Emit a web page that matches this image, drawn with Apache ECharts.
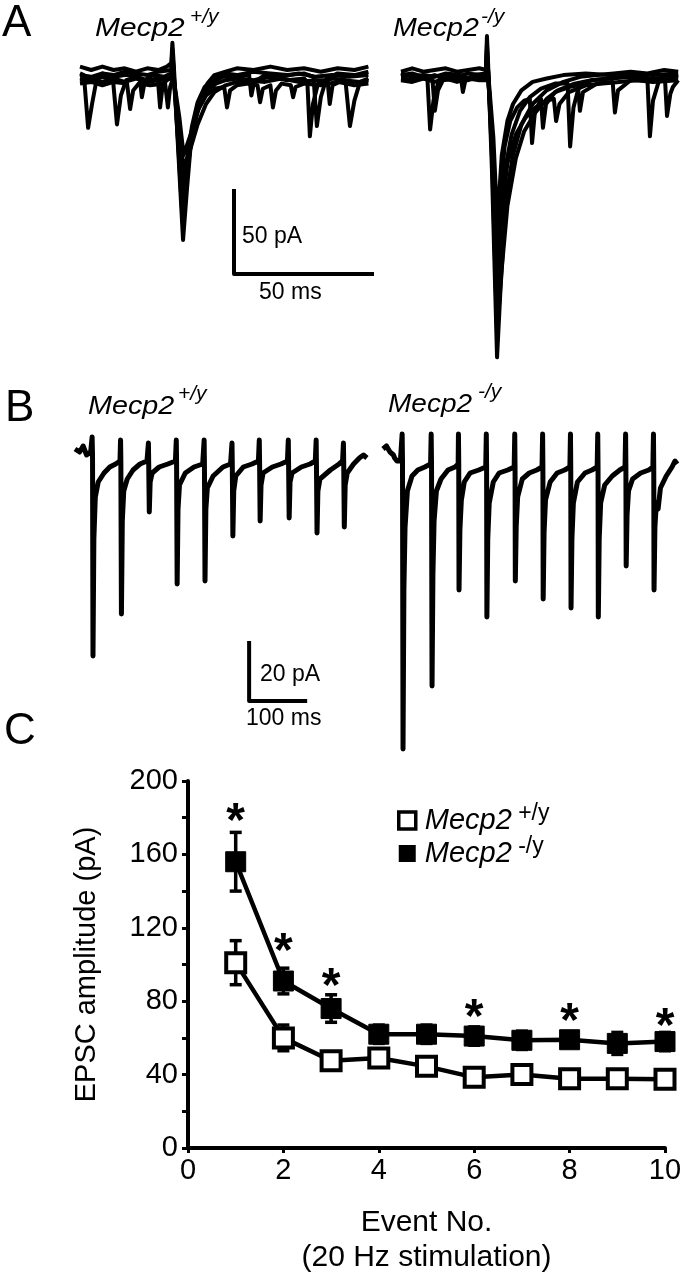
<!DOCTYPE html>
<html>
<head>
<meta charset="utf-8">
<script src="https://cdn.jsdelivr.net/npm/echarts/dist/echarts.min.js"></script>
<style>
  html, body { margin: 0; padding: 0; background: #fff; }
  #chart { width: 686px; height: 1280px; }
</style>
</head>
<body>
<div id="chart"></div>
<script>
// ---- A: evoked EPSC sweeps, [time ms, current pA] ----
const aWtSweeps = [
  [[0,2],[4,0],[8,2],[12,0],[16,1],[20,-1],[24,1],[28,0],[31,2],[32.6,4],[33,16],[33.5,3],[35,-45],[36.8,-100],[38.2,-70],[39.5,-45],[41,-28],[43,-16],[45.5,-8],[48,-3],[52,-1],[56,1],[62,0],[68,2],[74,0],[80,1],[86,-1],[92,1],[98,0],[103,2]],
  [[0,-2],[1.4,-3],[2.9,-34],[4.3,-20],[6,-5],[8,-2],[12,-3],[16,-1],[20,-2],[24,-3],[28,-1],[32.6,0],[33,12],[33.5,-2],[35,-40],[36.6,-80],[38.5,-50],[40,-33],[42,-19],[44.5,-10],[48,-5],[52,-2],[56,-3],[62,-1],[68,-2],[74,-3],[80,-2],[83.4,-4],[84.6,-33],[86,-16],[88,-5],[92,-2],[98,-3],[103,-1]],
  [[0,-5],[4,-6],[8,-4],[11.8,-6],[13.2,-32],[14.6,-15],[16.5,-6],[20,-4],[24,-6],[27.8,-5],[28.6,-22],[29.6,-8],[32.6,-4],[33,6],[33.6,-6],[35.2,-35],[36.8,-65],[38.8,-48],[40.5,-34],[42.5,-22],[45.5,-13],[48.5,-8],[52,-6],[56,-5],[62,-6],[68,-4],[74,-6],[80,-5],[81.2,-7],[82.1,-39],[83.2,-20],[85,-8],[90,-5],[94.8,-6],[96.4,-33],[98,-18],[100,-7],[103,-5]],
  [[0,-8],[4,-7],[8,-9],[12,-7],[16.8,-8],[17.9,-23],[19,-12],[21,-8],[25,-9],[30.4,-8],[31.4,-22],[32.2,-10],[33,-6],[33.8,-9],[35.5,-28],[37,-50],[39.5,-38],[42,-24],[45,-15],[48,-11],[51.5,-10],[52.5,-22],[53.6,-12],[56,-9],[60,-8],[63.4,-9],[64.3,-19],[65.3,-11],[68,-9],[68.9,-22],[70,-12],[72,-8],[75.3,-9],[76.1,-16],[77,-10],[80,-8],[86,-9],[92,-7],[98,-9],[103,-8]],
  [[0,-3],[4,-4],[8,-2],[12,-4],[16,-3],[21.2,-3],[22.1,-16],[23.2,-6],[26,-3],[30,-4],[32.6,-2],[33,10],[33.5,-4],[35,-42],[36.7,-90],[38.3,-60],[40,-38],[42,-23],[44.5,-13],[47.5,-7],[51,-4],[56,-4],[60.4,-3],[61.2,-15],[62.2,-7],[66,-3],[72,-4],[78,-2],[84,-4],[90,-3],[96,-4],[103,-3]],
  [[0,-6],[4,-5],[8,-7],[12,-5],[16,-7],[20,-5],[24,-7],[28,-6],[32.6,-5],[33,3],[33.5,-7],[35.3,-30],[37,-58],[39.5,-46],[42,-32],[45,-20],[48,-13],[52,-9],[56,-7],[60,-6],[66,-7],[72,-5],[78,-7],[84,-6],[88.4,-6],[89.2,-20],[90.2,-9],[94,-6],[100,-7],[103,-6]]
];
const aKoSweeps = [
  [[0,-1],[4,1],[8,-1],[12,0],[16,1],[20,-1],[24,0],[28,1],[30.3,0],[30.7,20],[31.2,0],[32.5,-60],[34.3,-169],[35.5,-130],[37.5,-75],[40,-50],[43,-32],[47,-20],[52,-12],[58,-7],[64,-4],[70,-3],[76,-2],[82,-1],[88,-2],[94,0],[99,-1]],
  [[0,-3],[4,-2],[8,-4],[9.4,-4],[10.4,-35],[11.6,-18],[13.5,-6],[16,-3],[20,-4],[24,-2],[28,-3],[30.3,-3],[30.7,12],[31.2,-3],[32.6,-50],[34.1,-140],[35.5,-95],[37,-60],[39.5,-38],[42.5,-24],[46,-16],[50,-11],[55,-8],[59.5,-8],[60.4,-45],[61.6,-22],[63.5,-10],[68,-6],[74,-5],[80,-4],[88,-5],[88.9,-39],[90,-18],[92,-7],[96,-4],[99,-3]],
  [[0,-5],[4,-6],[8,-4],[11.2,-5],[12.1,-24],[13.2,-12],[15,-6],[20,-5],[24,-6],[28,-4],[30.3,-5],[30.7,5],[31.2,-6],[32.8,-45],[34.2,-115],[35.6,-70],[37,-45],[39,-30],[41.5,-22],[44,-18],[46,-17],[46.8,-43],[47.8,-25],[50,-17],[50.7,-34],[51.8,-20],[55,-13],[60,-10],[63.2,-9],[63.9,-24],[65,-13],[70,-8],[75.6,-7],[76.4,-25],[77.5,-12],[82,-6],[88,-6],[94.3,-6],[95,-27],[96.2,-14],[97.1,-10],[99,-6]],
  [[0,-2],[4,-4],[8,-3],[12,-4],[16,-2],[21.3,-3],[22.1,-13],[23,-6],[26,-3],[30.3,-2],[30.7,8],[31.2,-3],[33,-40],[34.4,-90],[36,-50],[38,-30],[40,-20],[43,-12],[47,-7],[52,-5],[58,-3],[66,-2],[74,-3],[82,-2],[90,-3],[99,-2]],
  [[0,-4],[4,-3],[8,-5],[12,-3],[16,-5],[20,-3],[24,-5],[28,-4],[30.3,-3],[30.7,15],[31.2,-4],[32.6,-55],[34.3,-155],[35.8,-120],[38,-80],[41,-52],[44,-36],[48,-25],[52,-17],[56,-12],[62,-8],[68,-6],[75,-5],[82,-4],[90,-5],[99,-4]],
  [[0,-6],[4,-7],[8,-5],[12,-7],[16,-5],[20,-7],[24,-5],[28,-6],[30.3,-6],[30.7,4],[31.2,-7],[33,-50],[34.3,-125],[35.8,-85],[38,-55],[41,-38],[44.5,-28],[48,-22],[52,-18],[54.6,-17],[55.4,-30],[56.6,-20],[60,-13],[66,-9],[72,-8],[78,-7],[84,-6],[90,-7],[99,-6]]
];
const aScaleBar = [[55,-70],[55,-120],[105,-120]];   // 50 pA / 50 ms

// ---- B: 20 Hz train, [time ms, current pA] ----
const bWtTrace = [[0,2],[8,1],[14,3],[20,0],[27,1],[29.5,6],[30.2,0],[31,-67],[32.5,-28],[35,-14],[40,-9],[50,-6],[60,-4],[70,-3],[77.5,-2],[78.5,5],[79,-2],[80,-53],[81.5,-22],[84,-12],[90,-8],[100,-5],[112,-3],[124,-2],[126.5,4],[127,-3],[128,-19],[129.5,-9],[133,-6],[145,-4],[160,-3],[173,-2],[174.5,5],[175,-2],[176,-43],[177.5,-18],[180,-10],[190,-6],[205,-4],[220,-3],[222.5,5],[223,-3],[224,-42],[225.5,-18],[228,-11],[238,-7],[255,-4],[268,-3],[270.5,4],[271,-3],[272,-27],[273.5,-12],[277,-7],[290,-4],[305,-3],[316,-2],[317.5,5],[318,-2],[319,-22],[320.5,-10],[324,-6],[340,-4],[355,-3],[366,-2],[367.5,5],[368,-3],[369,-21],[370.5,-9],[374,-6],[390,-4],[405,-3],[414,-2],[415.5,5],[416,-3],[417,-26],[418.5,-12],[422,-8],[440,-5],[455,-3],[461,-2],[462.5,4],[463,-3],[464,-24],[465.5,-10],[469,-6],[480,-3],[490,-1],[497,0],[503,-1]];
const bKoTrace = [[0,2],[6,3],[12,1],[18,0],[20,-1],[24,-2],[30,-2],[33,7],[33.6,-2],[34.5,-98],[36,-45],[38,-24],[42,-12],[50,-7],[60,-5],[72,-4],[82,-3],[83,7],[83.6,-3],[84.5,-77],[86,-40],[88,-22],[92,-12],[100,-8],[112,-5],[124,-4],[129.5,-3],[130,7],[130.5,-3],[131,-45],[132.5,-25],[135,-15],[140,-9],[150,-6],[165,-5],[177,-4],[178,7],[178.5,-4],[179,-54],[180.5,-28],[183,-16],[190,-9],[200,-6],[215,-5],[226,-4],[227,7],[227.5,-4],[228,-42],[229.5,-24],[232,-14],[240,-8],[252,-6],[265,-5],[274,-4],[275,7],[275.5,-4],[276,-48],[277.5,-26],[280,-15],[288,-9],[300,-6],[313,-5],[322,-4],[323,7],[323.5,-4],[324,-51],[325.5,-28],[328,-16],[335,-9],[348,-6],[360,-5],[369,-4],[370,7],[370.5,-4],[371,-54],[372.5,-28],[375,-16],[382,-10],[395,-7],[408,-5],[417,-4],[418,7],[418.5,-4],[419,-37],[420.5,-20],[423,-12],[430,-8],[444,-6],[458,-5],[465,-4],[466,7],[466.5,-4],[467,-45],[468.5,-24],[471,-16],[474,-18],[478,-11],[488,-7],[498,-4],[503,-2],[507,-3]];
const bScaleBar = [[300,-62],[300,-82],[400,-82]];   // 20 pA / 100 ms

// ---- C: EPSC amplitude vs event number ----
const eventNo = [1, 2, 3, 4, 5, 6, 7, 8, 9, 10];
const wtMean = [101, 60, 47.5, 49, 44.5, 38.5, 40, 37.8, 37.8, 37.4];
const wtSem  = [12, 7, 3.5, 4, 4, 3, 3, 3, 3, 3];
const koMean = [156, 91, 76, 62, 62, 61, 58.7, 59, 57, 58];
const koSem  = [16, 7, 7.5, 5, 5, 5, 5, 4, 6, 5];
const starX = [1, 2, 3, 6, 8, 10];
const starY = [184, 113, 94, 77, 75, 72];

const FONT = "'Liberation Sans', Arial, Helvetica, sans-serif";
const chart = echarts.init(document.getElementById('chart'), null, { renderer: 'canvas' });

function hiddenAxis(grid, min, max) {
  return { gridIndex: grid, type: 'value', min: min, max: max, show: false };
}

function traceSeries(data, grid, width) {
  return {
    type: 'line', xAxisIndex: grid, yAxisIndex: grid, data: data,
    showSymbol: false, symbol: 'none', silent: true,
    lineStyle: { color: '#000', width: width, join: 'round' }
  };
}

// text helper (layout only); baseline placed at top + 0.8 * size
function label(text, left, baseline, size, italic, sx) {
  return {
    type: 'text', x: left, y: baseline - 0.8 * size, scaleX: sx || 1,
    style: {
      text: text, fill: '#000', fontSize: size, fontFamily: FONT,
      fontStyle: italic ? 'italic' : 'normal', textVerticalAlign: 'top'
    }
  };
}

function errRender(params, api) {
  const x = api.value(0), m = api.value(1), e = api.value(2);
  const top = api.coord([x, m + e]);
  const bot = api.coord([x, m - e]);
  const w = 6;
  const st = { stroke: '#000', lineWidth: 3.5 };
  return {
    type: 'group',
    children: [
      { type: 'line', shape: { x1: top[0], y1: top[1], x2: bot[0], y2: bot[1] }, style: st },
      { type: 'line', shape: { x1: top[0] - w, y1: top[1], x2: top[0] + w, y2: top[1] }, style: st },
      { type: 'line', shape: { x1: bot[0] - w, y1: bot[1], x2: bot[0] + w, y2: bot[1] }, style: st }
    ]
  };
}

const series = [];
aWtSweeps.forEach(s => series.push(traceSeries(s, 0, 4)));
series.push(traceSeries(aScaleBar, 0, 4));
aKoSweeps.forEach(s => series.push(traceSeries(s, 1, 4)));
series.push(traceSeries(bWtTrace, 2, 5));
series.push(traceSeries(bScaleBar, 2, 4));
series.push(traceSeries(bKoTrace, 3, 5));

series.push({
  type: 'custom', xAxisIndex: 4, yAxisIndex: 4, z: 2, silent: true,
  renderItem: errRender,
  data: eventNo.map((x, i) => [x, wtMean[i], wtSem[i]])
});
series.push({
  type: 'custom', xAxisIndex: 4, yAxisIndex: 4, z: 2, silent: true,
  renderItem: errRender,
  data: eventNo.map((x, i) => [x, koMean[i], koSem[i]])
});
series.push({
  name: 'Mecp2 +/y', type: 'line', xAxisIndex: 4, yAxisIndex: 4, z: 3,
  data: eventNo.map((x, i) => [x, wtMean[i]]),
  symbol: 'rect', symbolSize: 19, showAllSymbol: true,
  lineStyle: { color: '#000', width: 4.5 },
  itemStyle: { color: '#fff', borderColor: '#000', borderWidth: 4 }
});
series.push({
  name: 'Mecp2 -/y', type: 'line', xAxisIndex: 4, yAxisIndex: 4, z: 4,
  data: eventNo.map((x, i) => [x, koMean[i]]),
  symbol: 'rect', symbolSize: 20, showAllSymbol: true,
  lineStyle: { color: '#000', width: 4.5 },
  itemStyle: { color: '#000', borderColor: '#000', borderWidth: 1 }
});
series.push({
  type: 'scatter', xAxisIndex: 4, yAxisIndex: 4, z: 5, silent: true,
  data: starX.map((x, i) => [x, starY[i]]),
  symbolSize: 1, itemStyle: { color: 'rgba(0,0,0,0)', opacity: 1 },
  label: {
    show: true, position: 'inside', formatter: '*', color: '#000',
    fontSize: 48, fontWeight: 'bold', fontFamily: FONT, offset: [0, 12]
  }
});

const option = {
  backgroundColor: '#fff',
  animation: false,
  textStyle: { fontFamily: FONT },
  grid: [
    { left: 80, top: 36, width: 294, height: 340 },
    { left: 401, top: 36, width: 280, height: 340 },
    { left: 75, top: 410, width: 296, height: 360 },
    { left: 383, top: 410, width: 296, height: 360 },
    { left: 188, top: 781, right: 21, bottom: 132 }
  ],
  xAxis: [
    hiddenAxis(0, 0, 105), hiddenAxis(1, 0, 100), hiddenAxis(2, 0, 510), hiddenAxis(3, 0, 510),
    {
      gridIndex: 4, type: 'value', min: 0, max: 10, interval: 2,
      name: 'Event No.\n(20 Hz stimulation)', nameLocation: 'middle', nameGap: 57,
      nameTextStyle: { fontSize: 30, color: '#000', lineHeight: 35, fontFamily: FONT },
      axisLine: { lineStyle: { color: '#000', width: 4 } },
      axisTick: { length: 5, lineStyle: { color: '#000', width: 3 } },
      axisLabel: { color: '#000', fontSize: 29, margin: 8, fontFamily: FONT },
      splitLine: { show: false }
    }
  ],
  yAxis: [
    hiddenAxis(0, -180, 20), hiddenAxis(1, -180, 20), hiddenAxis(2, -105, 15), hiddenAxis(3, -105, 15),
    {
      gridIndex: 4, type: 'value', min: 0, max: 200, interval: 20,
      name: 'EPSC amplitude (pA)', nameLocation: 'middle', nameGap: 87,
      nameTextStyle: { fontSize: 29, color: '#000', fontFamily: FONT },
      axisLine: { show: true, lineStyle: { color: '#000', width: 4 } },
      axisTick: { show: true, length: 6, lineStyle: { color: '#000', width: 3 } },
      axisLabel: {
        color: '#000', fontSize: 29, margin: 10, fontFamily: FONT,
        formatter: v => (v % 40 === 0 ? String(v) : '')
      },
      splitLine: { show: false }
    }
  ],
  legend: {
    orient: 'vertical', left: 392, top: 797, itemWidth: 17, itemHeight: 17, itemGap: 0,
    data: [
      { name: 'Mecp2 +/y', icon: 'rect', itemStyle: { color: '#fff', borderColor: '#000', borderWidth: 3.5 } },
      { name: 'Mecp2 -/y', icon: 'rect', itemStyle: { color: '#000', borderColor: '#000', borderWidth: 0 } }
    ],
    formatter: name => '{m|Mecp2}{s| ' + name.split(' ')[1] + '}',
    textStyle: {
      rich: {
        m: { fontSize: 29, fontStyle: 'italic', lineHeight: 37, color: '#000', fontFamily: FONT, padding: [0, 0, 0, 4] },
        s: { fontSize: 23, lineHeight: 20, verticalAlign: 'top', color: '#000', fontFamily: FONT }
      }
    }
  },
  graphic: [
    label('A', 2, 37, 44),
    label('B', 5, 422, 44),
    label('C', 4, 745, 44),
    label('Mecp2', 95, 37, 26, true, 1.15),
    label('+/y', 190, 23, 21, true),
    label('Mecp2', 393, 37, 26, true, 1.1),
    label('-/y', 481, 23, 21, true),
    label('Mecp2', 88, 415, 25, true, 1.15),
    label('+/y', 178, 400, 21, true),
    label('Mecp2', 388, 413, 25, true, 1.12),
    label('-/y', 478, 398, 21, true),
    label('50 pA', 242, 244, 23),
    label('50 ms', 259, 300, 23),
    label('20 pA', 260, 682, 23),
    label('100 ms', 246, 726, 23)
  ],
  series: series
};

chart.setOption(option);
</script>
</body>
</html>
